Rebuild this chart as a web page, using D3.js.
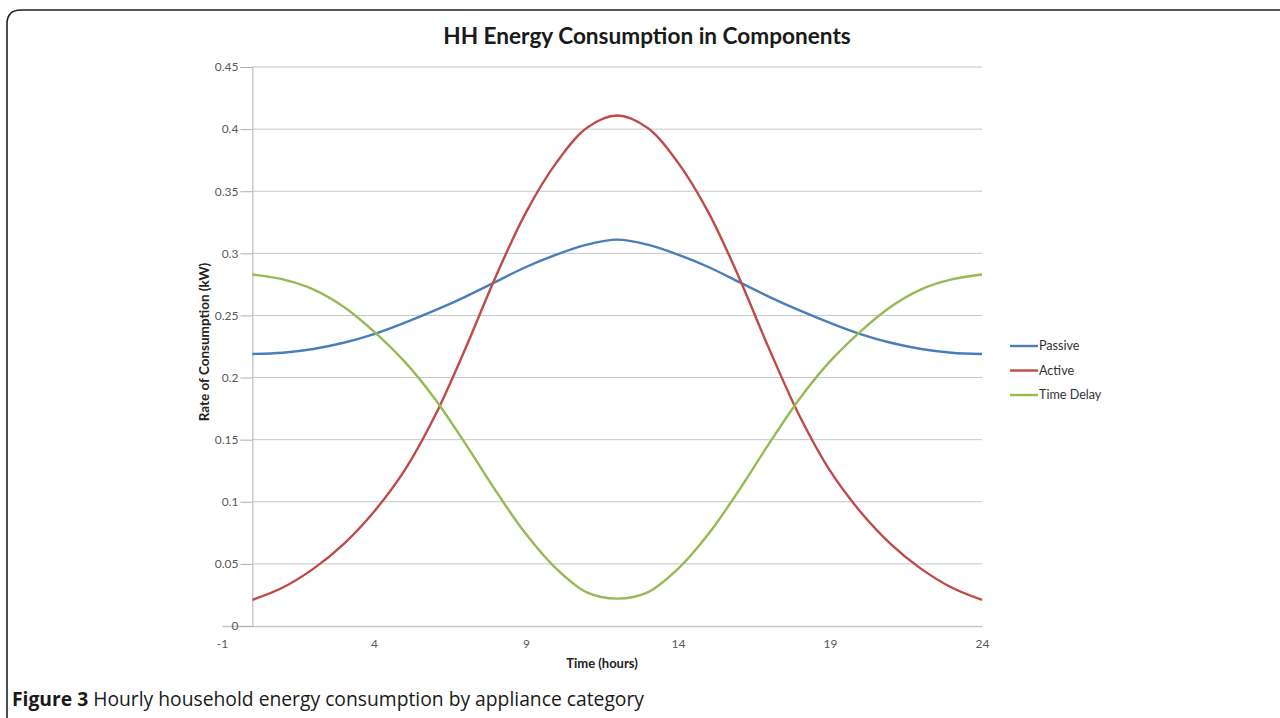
<!DOCTYPE html>
<html>
<head>
<meta charset="utf-8">
<script src="https://cdn.jsdelivr.net/npm/d3@7"></script>
<style>
  html, body { margin: 0; padding: 0; background: #fff; }
  svg { display: block; }
  .tick text { fill: #595959; font-family: Lato, "Open Sans", sans-serif; font-size: 12px; }
  .axis-title { font-family: Lato, "Open Sans", sans-serif; font-weight: bold; fill: #222; }
</style>
</head>
<body>
<div id="chart"></div>
<script>
// Hourly values (kW)
const hours = [0, 1, 2, 3, 4, 5, 6, 7, 8, 9, 10, 11, 12, 13, 14, 15, 16, 17, 18, 19, 20, 21, 22, 23, 24];
const passive = [0.219, 0.220, 0.223, 0.228, 0.235, 0.244, 0.254, 0.265, 0.277, 0.289, 0.299, 0.307, 0.311,
  0.307, 0.299, 0.289, 0.277, 0.265, 0.254, 0.244, 0.235, 0.228, 0.223, 0.220, 0.219];
const active = [0.021, 0.031, 0.046, 0.066, 0.092, 0.125, 0.169, 0.223, 0.281, 0.333, 0.373, 0.401, 0.411,
  0.401, 0.373, 0.333, 0.281, 0.223, 0.169, 0.125, 0.092, 0.066, 0.046, 0.031, 0.021];
const timeDelay = [0.283, 0.279, 0.271, 0.257, 0.237, 0.213, 0.183, 0.147, 0.109, 0.074, 0.046, 0.027, 0.022,
  0.027, 0.046, 0.074, 0.109, 0.147, 0.183, 0.213, 0.237, 0.257, 0.271, 0.279, 0.283];

const seriesNames = ["Passive", "Active", "Time Delay"];
const seriesColors = ["#4a7ebb", "#be4b48", "#98b954"];
const xTicks = [-1, 4, 9, 14, 19, 24];
const yTicks = [0, 0.05, 0.1, 0.15, 0.2, 0.25, 0.3, 0.35, 0.4, 0.45];

const width = 1280, height = 718;
const svg = d3.select("#chart").append("svg").attr("width", width).attr("height", height);

// Rounded figure frame (runs off the right and bottom edges)
svg.append("path")
  .attr("d", "M7,730 L7,24 Q7,10 21,10 L1300,10")
  .attr("fill", "none")
  .attr("stroke", "#222")
  .attr("stroke-width", 1.6);

const x = d3.scaleLinear().domain([-1, 24]).range([222, 982]);
const y = d3.scaleLinear().domain([0, 0.45]).range([626, 67]);

// Horizontal gridlines
svg.append("g")
  .selectAll("line")
  .data(yTicks.filter((d) => d > 0))
  .join("line")
  .attr("x1", x(0))
  .attr("x2", x(24))
  .attr("y1", (d) => y(d))
  .attr("y2", (d) => y(d))
  .attr("stroke", "#c6c6c6")
  .attr("stroke-width", 1);

// X axis along y = 0
const xAxis = svg.append("g")
  .attr("transform", `translate(0,${y(0)})`)
  .call(d3.axisBottom(x).tickValues(xTicks).tickSize(0).tickPadding(13).tickFormat((d) => String(d)));
xAxis.select(".domain").attr("stroke", "#c6c6c6").attr("stroke-width", 1.3);

// Y axis crossing at x = 0
const yAxis = svg.append("g")
  .attr("transform", `translate(${x(0)},0)`)
  .call(d3.axisLeft(y).tickValues(yTicks).tickSize(12).tickPadding(2).tickFormat((d) => String(+d.toFixed(2))));
yAxis.select(".domain").attr("stroke", "#b0b0b0");
yAxis.selectAll(".tick line").attr("stroke", "#b0b0b0");

// Series lines
const seriesData = [passive, active, timeDelay];
const line = d3.line()
  .x((d, i) => x(hours[i]))
  .y((d) => y(d))
  .curve(d3.curveCatmullRom.alpha(0.5));

svg.append("g")
  .selectAll("path")
  .data(seriesData)
  .join("path")
  .attr("d", (d) => line(d))
  .attr("fill", "none")
  .attr("stroke", (d, i) => seriesColors[i])
  .attr("stroke-width", 2.4);

// Legend
const legend = svg.append("g").attr("transform", "translate(1010,346)");
const items = legend.selectAll("g")
  .data(seriesNames)
  .join("g")
  .attr("transform", (d, i) => `translate(0,${i * 24.5})`);
items.append("line")
  .attr("x1", 0).attr("x2", 28)
  .attr("stroke", (d, i) => seriesColors[i])
  .attr("stroke-width", 2.4);
items.append("text")
  .attr("x", 29)
  .attr("dy", "0.35em")
  .attr("font-family", "Lato, 'Open Sans', sans-serif")
  .attr("font-size", 12.6)
  .attr("fill", "#333")
  .text((d) => d);

// Titles
svg.append("text")
  .attr("x", 647).attr("y", 44)
  .attr("text-anchor", "middle")
  .attr("font-family", "Lato, 'Open Sans', sans-serif")
  .attr("font-weight", "bold")
  .attr("font-size", 22.6)
  .attr("fill", "#1a1a1a")
  .text("HH Energy Consumption in Components");

svg.append("text")
  .attr("class", "axis-title")
  .attr("x", 602).attr("y", 668)
  .attr("text-anchor", "middle")
  .attr("font-size", 13)
  .text("Time (hours)");

svg.append("text")
  .attr("class", "axis-title")
  .attr("transform", "translate(209,342) rotate(-90)")
  .attr("text-anchor", "middle")
  .attr("font-size", 13.5)
  .text("Rate of Consumption (kW)");

// Figure caption
const caption = svg.append("text")
  .attr("x", 12).attr("y", 706)
  .attr("font-family", "'Open Sans', sans-serif")
  .attr("font-size", 19.3)
  .attr("fill", "#1a1a1a");
caption.append("tspan").attr("font-weight", "bold").text("Figure 3");
caption.append("tspan").text(" Hourly household energy consumption by appliance category");
</script>
</body>
</html>
